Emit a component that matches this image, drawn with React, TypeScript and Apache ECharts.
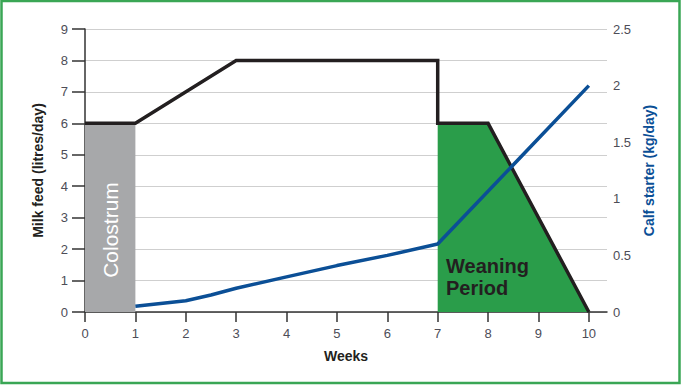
import React, { useEffect, useRef } from "react";
import * as echarts from "echarts";

const weekTicks = [0, 1, 2, 3, 4, 5, 6, 7, 8, 9, 10];
const milkFeed: [number, number][] = [[0, 6], [1, 6], [3, 8], [7, 8], [7, 6], [8, 6], [10, 0]];
const colostrumArea: [number, number][] = [[0, 6], [1, 6]];
const weaningArea: [number, number][] = [[7, 6], [8, 6], [10, 0]];
const calfStarter: [number, number][] = [[1, 0.05], [2, 0.1], [2.5, 0.15], [3, 0.21], [4, 0.31], [5, 0.41], [6, 0.5], [7, 0.6], [10, 2.0]];

export default function App() {
  const ref = useRef<HTMLDivElement>(null);
  useEffect(() => {
    const chart = echarts.init(ref.current!, null, { renderer: "svg" });
    const labelColor = "#4d4d57";
    const titleFont = "'Liberation Sans', Arial, sans-serif";
    chart.setOption({
      animation: false,
      backgroundColor: "#ffffff",
      grid: { left: 85, right: 78, top: 29, bottom: 73 },
      xAxis: {
        type: "value",
        min: 0,
        max: 10.36,
        name: "Weeks",
        nameLocation: "middle",
        nameGap: 37,
        nameTextStyle: { fontWeight: "bold", fontSize: 14, color: "#231f20", fontFamily: titleFont },
        axisLine: { lineStyle: { color: "#333", width: 1.5 } },
        axisTick: { show: true, length: 10, lineStyle: { color: "#333", width: 1.5 }, customValues: weekTicks },
        axisLabel: { color: labelColor, fontSize: 13, margin: 15, fontFamily: "Liberation Sans", customValues: weekTicks },
        splitLine: { show: false },
      },
      yAxis: [
        {
          type: "value",
          min: 0,
          max: 9,
          interval: 1,
          name: "Milk feed (litres/day)",
          nameLocation: "middle",
          nameGap: 40,
          nameTextStyle: { fontWeight: "bold", fontSize: 14, color: "#231f20", fontFamily: titleFont },
          axisLine: { show: true, lineStyle: { color: "#333", width: 1.5 } },
          axisTick: { show: true, length: 13, lineStyle: { color: "#333", width: 1.5 } },
          axisLabel: { color: labelColor, fontSize: 13, margin: 17, fontFamily: "Liberation Sans" },
          splitLine: { show: true, lineStyle: { color: "#cfcfcf", width: 1 } },
        },
        {
          type: "value",
          min: 0,
          max: 2.5,
          interval: 0.5,
          name: "Calf starter (kg/day)",
          nameLocation: "middle",
          nameGap: 30,
          nameRotate: 90,
          nameTextStyle: { fontWeight: "bold", fontSize: 14, color: "#0b4f96", fontFamily: titleFont },
          axisLine: { show: false },
          axisTick: { show: false },
          axisLabel: { color: labelColor, fontSize: 13, margin: 6, fontFamily: "Liberation Sans" },
          splitLine: { show: false },
        },
      ],
      series: [
        {
          type: "line",
          data: colostrumArea,
          yAxisIndex: 0,
          symbol: "none",
          lineStyle: { width: 0 },
          areaStyle: { color: "#a7a8aa", opacity: 1 },
          z: 1,
        },
        {
          type: "line",
          data: weaningArea,
          yAxisIndex: 0,
          symbol: "none",
          lineStyle: { width: 0 },
          areaStyle: { color: "#2a9d4a", opacity: 1 },
          z: 1,
        },
        {
          type: "line",
          data: milkFeed,
          yAxisIndex: 0,
          symbol: "none",
          lineStyle: { color: "#231f20", width: 3.5, join: "miter" },
          z: 3,
        },
        {
          type: "line",
          data: calfStarter,
          yAxisIndex: 1,
          symbol: "none",
          smooth: false,
          lineStyle: { color: "#0b4f96", width: 3.5 },
          z: 4,
        },
      ],
      graphic: [
        {
          type: "rect",
          shape: { x: 1.5, y: 1, width: 678, height: 382 },
          style: { fill: "none", stroke: "#3aa655", lineWidth: 2.5 },
          silent: true,
        },
        {
          type: "text",
          x: 110,
          y: 230,
          rotation: Math.PI / 2,
          style: {
            text: "Colostrum",
            fill: "#ffffff",
            fontSize: 21,
            fontFamily: "Liberation Sans",
            align: "center",
            verticalAlign: "middle",
          },
          z: 10,
        },
        {
          type: "text",
          x: 446,
          y: 266,
          style: {
            text: "Weaning",
            fill: "#231f20",
            fontSize: 20,
            fontWeight: "bold",
            fontFamily: titleFont,
            align: "left",
            verticalAlign: "middle",
          },
          z: 10,
        },
        {
          type: "text",
          x: 446,
          y: 288,
          style: {
            text: "Period",
            fill: "#231f20",
            fontSize: 20,
            fontWeight: "bold",
            fontFamily: titleFont,
            align: "left",
            verticalAlign: "middle",
          },
          z: 10,
        },
      ],
    });
    return () => chart.dispose();
  }, []);
  return <div ref={ref} style={{ position: "absolute", left: 0, top: 0, width: 685, height: 385 }} />;
}
